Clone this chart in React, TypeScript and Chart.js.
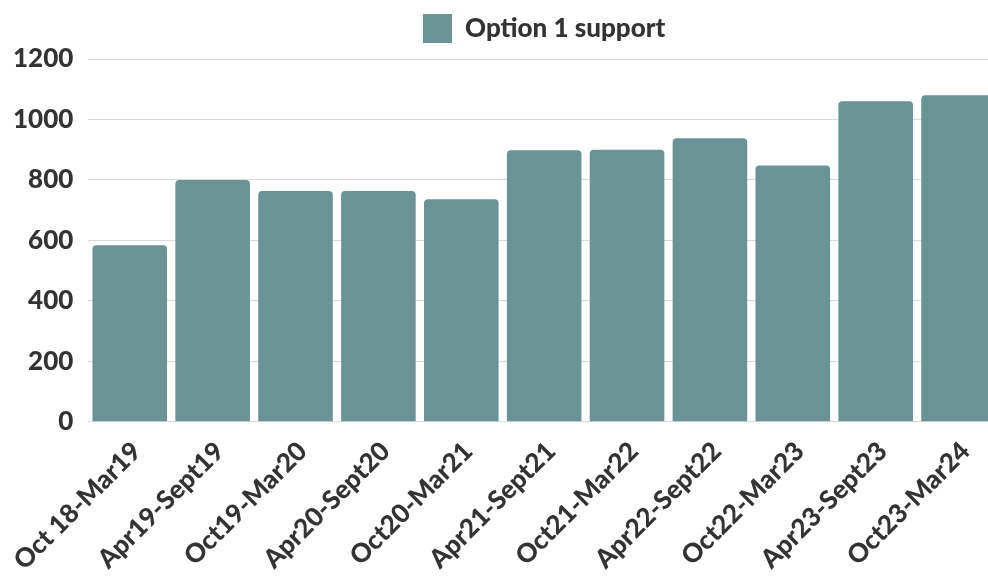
import React, { useEffect, useRef } from "react";
import { Chart, registerables } from "chart.js";

Chart.register(...registerables);

const categories = [
  "Oct 18-Mar19",
  "Apr19-Sept19",
  "Oct19-Mar20",
  "Apr20-Sept20",
  "Oct20-Mar21",
  "Apr21-Sept21",
  "Oct21-Mar22",
  "Apr22-Sept22",
  "Oct22-Mar23",
  "Apr23-Sept23",
  "Oct23-Mar24",
];
const seriesName = "Option 1 support";
const supportValues = [584, 800, 763, 763, 736, 898, 900, 938, 848, 1060, 1080];
const yTicks = [0, 200, 400, 600, 800, 1000, 1200];

const legendSpacer = {
  id: "legendSpacer",
  afterInit(chart: any) {
    const legend = chart.legend;
    if (legend && !legend.__spaced) {
      const orig = legend.fit;
      legend.fit = function () {
        orig.call(this);
        this.height += 6;
      };
      legend.__spaced = true;
    }
  },
};

export default function App() {
  const ref = useRef<HTMLCanvasElement>(null);
  useEffect(() => {
    if (!ref.current) return;
    const font = "Lato, 'Open Sans', sans-serif";
    const chart = new Chart(ref.current, {
      type: "bar",
      data: {
        labels: categories,
        datasets: [
          {
            label: seriesName,
            data: supportValues,
            backgroundColor: "#6a9395",
            borderRadius: { topLeft: 4, topRight: 4, bottomLeft: 0, bottomRight: 0 },
            borderSkipped: "start",
            barPercentage: 0.9,
            categoryPercentage: 1,
          },
        ],
      },
      plugins: [legendSpacer],
      options: {
        animation: false,
        responsive: false,
        maintainAspectRatio: false,
        layout: { padding: { top: -5, left: -2, right: 0, bottom: 0 } },
        plugins: {
          tooltip: { enabled: false },
          legend: {
            position: "top",
            fullSize: false,
            labels: {
              boxWidth: 29,
              boxHeight: 29,
              padding: 19,
              color: "#333333",
              font: { family: font, size: 26, weight: "900" },
            },
          },
        },
        scales: {
          x: {
            grid: { display: false },
            border: { display: false },
            ticks: {
              color: "#333333",
              font: { family: font, size: 26, weight: "900" },
              maxRotation: 45,
              minRotation: 45,
              autoSkip: false,
              padding: 6,
              labelOffset: 7,
            },
          },
          y: {
            min: 0,
            max: 1200,
            afterBuildTicks: (axis: any) => {
              axis.ticks = yTicks.map((v) => ({ value: v }));
            },
            grid: { color: "#d9d9d9", lineWidth: 1, drawTicks: false },
            border: { display: false },
            ticks: {
              color: "#333333",
              font: { family: font, size: 26, weight: "900" },
              padding: 15,
              callback: (v: any) => String(v),
            },
          },
        },
      },
    });
    chart.update();
    return () => chart.destroy();
  }, []);
  return (
    <div
      style={{
        position: "fixed",
        left: 0,
        top: 0,
        width: 988,
        height: 580,
        overflow: "hidden",
        background: "#ffffff",
      }}
    >
      <canvas ref={ref} width={1000} height={582} style={{ width: 1000, height: 582, display: "block" }} />
    </div>
  );
}
